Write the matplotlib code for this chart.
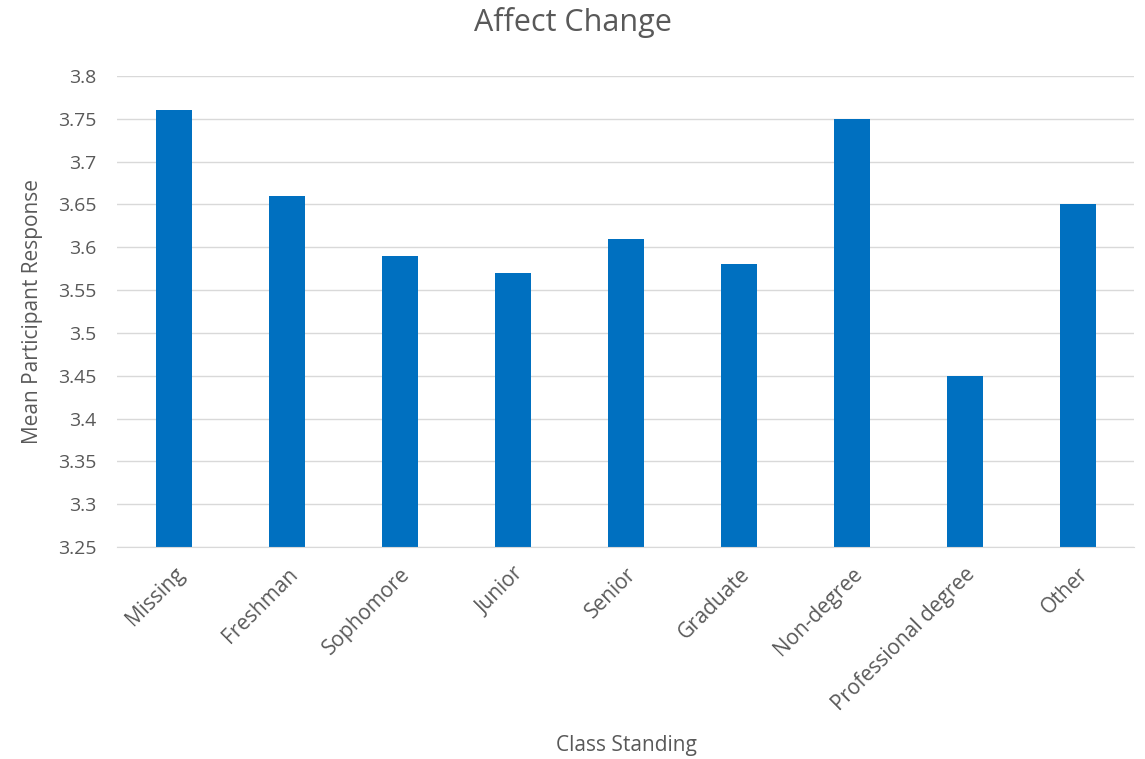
import matplotlib.pyplot as plt
import numpy as np

categories = ["Missing", "Freshman", "Sophomore", "Junior", "Senior",
              "Graduate", "Non-degree", "Professional degree", "Other"]
values = [3.76, 3.66, 3.59, 3.57, 3.61, 3.58, 3.75, 3.45, 3.65]
yticks = [3.25, 3.3, 3.35, 3.4, 3.45, 3.5, 3.55, 3.6, 3.65, 3.7, 3.75, 3.8]
ytick_labels = ["3.25", "3.3", "3.35", "3.4", "3.45", "3.5", "3.55", "3.6",
                "3.65", "3.7", "3.75", "3.8"]

plt.rcParams['font.family'] = ['Open Sans', 'DejaVu Sans']
text_color = "#595959"
grid_color = "#d9d9d9"

fig = plt.figure(figsize=(11.45, 7.59), dpi=100)
ax = fig.add_axes([0.1026, 0.2793, 0.8882, 0.6206])

x = np.arange(len(categories))
ax.bar(x, values, width=0.32, color="#0070c0", zorder=3)

ax.set_xlim(-0.5, len(categories) - 0.5)
ax.set_ylim(3.25, 3.8)
ax.set_yticks(yticks)
ax.set_yticklabels(ytick_labels)
ax.set_xticks(x)
ax.set_xticklabels(categories, rotation=45, ha="right", rotation_mode="anchor")

ax.grid(axis="y", color=grid_color, linewidth=1, zorder=0)
for side in ["top", "right", "left"]:
    ax.spines[side].set_visible(False)
ax.spines["bottom"].set_color(grid_color)
ax.spines["bottom"].set_zorder(4)
ax.tick_params(length=0, labelsize=14, colors=text_color)
ax.tick_params(axis="y", pad=15)
ax.tick_params(axis="x", pad=12, labelsize=15)

# title centred on the whole figure, like the spreadsheet chart
fig.text(0.5, 1 - 22 / 759, "Affect Change", fontsize=22, color=text_color,
         ha="center", va="center")
ax.set_xlabel("Class Standing", fontsize=15, color=text_color, va="center")
ax.xaxis.set_label_coords(0.5467, 1 - 745 / 759, transform=fig.transFigure)
ax.set_ylabel("Mean Participant Response", fontsize=15, color=text_color, labelpad=11)

fig.savefig("out.png", dpi=100)
